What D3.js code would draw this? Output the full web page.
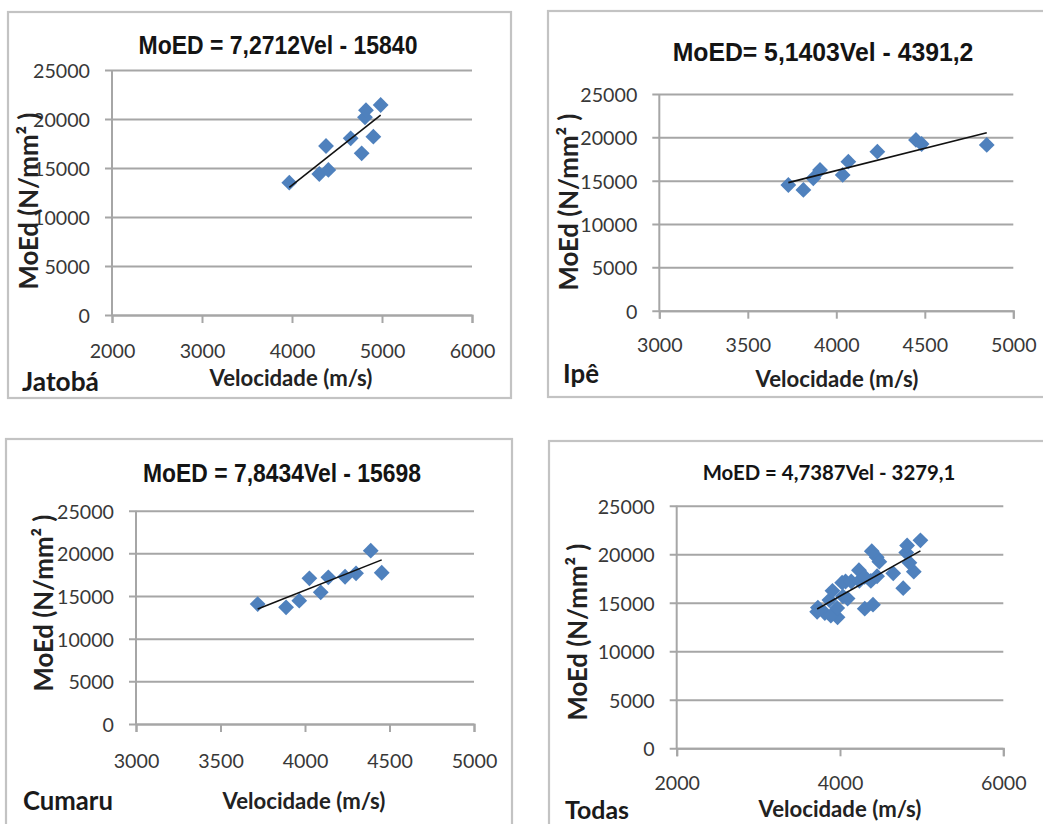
<!DOCTYPE html>
<html>
<head>
<meta charset="utf-8">
<script src="https://cdn.jsdelivr.net/npm/d3@7"></script>
<style>
  html, body { margin: 0; padding: 0; background: #ffffff; }
  svg { display: block; }
</style>
</head>
<body>
<svg id="chart" width="1043" height="824"></svg>
<script>
// ---------------- DATA ----------------
const speciesNames = ["Jatobá", "Ipê", "Cumaru", "Todas"];
const titles = [
  "MoED = 7,2712Vel - 15840",
  "MoED= 5,1403Vel - 4391,2",
  "MoED = 7,8434Vel - 15698",
  "MoED = 4,7387Vel - 3279,1"
];
const trendSlopes = [7.2712, 5.1403, 7.8434, 4.7387];
const trendIntercepts = [-15840, -4391.2, -15698, -3279.1];

const jatobaVel  = [3970, 4303, 4404, 4378, 4652, 4774, 4904, 4811, 4822, 4985];
const jatobaMoed = [13500, 14390, 14800, 17245, 18030, 16500, 18200, 20170, 20900, 21430];

const ipeVel  = [3729, 3814, 3870, 3908, 4036, 4068, 4232, 4450, 4482, 4850];
const ipeMoed = [14500, 13930, 15270, 16230, 15660, 17190, 18350, 19700, 19230, 19120];

const cumaruVel  = [3720, 3888, 3966, 4026, 4093, 4138, 4237, 4302, 4389, 4454];
const cumaruMoed = [14060, 13670, 14450, 17070, 15430, 17190, 17260, 17660, 20310, 17730];

const todasVel  = jatobaVel.concat(ipeVel, cumaruVel);
const todasMoed = jatobaMoed.concat(ipeMoed, cumaruMoed);

const xTicksJatoba = [2000, 3000, 4000, 5000, 6000];
const xTicksIpe    = [3000, 3500, 4000, 4500, 5000];
const xTicksCumaru = [3000, 3500, 4000, 4500, 5000];
const xTicksTodas  = [2000, 4000, 6000];
const yTicks = [0, 5000, 10000, 15000, 20000, 25000];

const xLabel = "Velocidade (m/s)";
const yLabel = "MoEd (N/mm² )";

// ---------------- LAYOUT / STYLE ----------------
const panels = [
  { vel: jatobaVel, moed: jatobaMoed, xTicks: xTicksJatoba,
    box: [8, 12, 511, 398], plot: [112, 70, 472, 315],
    title: [278, 45], titleW: 279, titleNarrow: true,
    xLabY: 350, xTitle: [291, 377], name: [22, 391], nameW: 77, yTitle: [28, 201] },
  { vel: ipeVel, moed: ipeMoed, xTicks: xTicksIpe,
    box: [548, 11, 1050, 397], plot: [659.3, 94, 1013.3, 310.7],
    title: [823, 52], titleW: 301, titleNarrow: true,
    xLabY: 345, xTitle: [837, 378], name: [563, 383], nameW: 36, yTitle: [568, 202] },
  { vel: cumaruVel, moed: cumaruMoed, xTicks: xTicksCumaru,
    box: [6, 439, 512, 830], plot: [136, 510.7, 474, 724],
    title: [282, 473], titleW: 278, titleNarrow: true,
    xLabY: 760, xTitle: [304, 800], name: [23, 810], nameW: 90, yTitle: [43, 603] },
  { vel: todasVel, moed: todasMoed, xTicks: xTicksTodas,
    box: [549, 441, 1050, 830], plot: [676.7, 505.7, 1003.3, 748.3],
    title: [829, 472], titleW: 253, titleNarrow: false,
    xLabY: 783, xTitle: [840, 808], name: [565, 819], nameW: 64, yTitle: [577, 632] }
];
const tickLabelW = 57;     // width of "25000"
const xTitleW = 163;
const yTitleW = 177;

const svg = d3.select("#chart");
const gridColor = "#a6a6a6";
const textColor = "#383838";
const markColor = "#4f81bd";
const sansFont = "'Liberation Sans', Arial, sans-serif";
const labelFont = "Lato, 'Open Sans', sans-serif";

// scale font-size so a text gets the wanted width
function fitSize(sel, target) {
  const len = sel.node().getComputedTextLength();
  const fs = parseFloat(sel.attr("font-size"));
  const nfs = fs * target / len;
  sel.attr("font-size", nfs);
  return nfs;
}

panels.forEach((p, i) => {
  const g = svg.append("g");
  const [bx0, by0, bx1, by1] = p.box;
  g.append("rect")
    .attr("x", bx0).attr("y", by0)
    .attr("width", bx1 - bx0).attr("height", by1 - by0)
    .attr("fill", "#fff").attr("stroke", "#c3c3c3").attr("stroke-width", 2.2);

  const [px0, py0, px1, py1] = p.plot;
  const x = d3.scaleLinear().domain(d3.extent(p.xTicks)).range([px0, px1]);
  const y = d3.scaleLinear().domain([0, 25000]).range([py1, py0]);

  // horizontal gridlines with small left ticks
  const yAxis = d3.axisLeft(y).tickValues(yTicks).tickSize(-(px1 - px0)).tickPadding(0)
    .tickFormat(d3.format("d"));
  const ya = g.append("g").attr("transform", `translate(${px0},0)`).call(yAxis);
  ya.select(".domain").remove();
  ya.selectAll(".tick line").attr("x1", -7).attr("stroke", gridColor).attr("stroke-width", 2);
  const yTexts = ya.selectAll(".tick text")
    .attr("font-family", labelFont).attr("font-size", 20)
    .attr("fill", textColor).attr("x", -22).attr("dy", null)
    .attr("dominant-baseline", "central");
  const widest = yTexts.filter(d => d === 25000);
  const tfs = fitSize(widest, tickLabelW);
  yTexts.attr("font-size", tfs);

  // y axis vertical line
  g.append("line").attr("x1", px0).attr("x2", px0).attr("y1", py0).attr("y2", py1)
    .attr("stroke", gridColor).attr("stroke-width", 2);

  // x axis
  const xAxis = d3.axisBottom(x).tickValues(p.xTicks).tickSize(8).tickPadding(0)
    .tickFormat(d3.format("d"));
  const xa = g.append("g").attr("transform", `translate(0,${py1})`).call(xAxis);
  xa.select(".domain").attr("stroke", gridColor).attr("stroke-width", 2);
  xa.selectAll(".tick line").attr("stroke", gridColor).attr("stroke-width", 2);
  xa.selectAll(".tick text").attr("font-family", labelFont).attr("font-size", tfs)
    .attr("fill", textColor).attr("dy", null)
    .attr("y", p.xLabY - py1).attr("dominant-baseline", "central");

  // points
  const pts = p.vel.map((v, k) => [v, p.moed[k]]);
  g.append("g").selectAll("path").data(pts).join("path")
    .attr("d", d3.symbol(d3.symbolSquare, 125))
    .attr("transform", d => `translate(${x(d[0])},${y(d[1])}) rotate(45)`)
    .attr("fill", markColor);

  // trendline from the fitted equation over the data range
  const trend = d3.extent(p.vel).map(v => [v, trendSlopes[i] * v + trendIntercepts[i]]);
  g.append("path").datum(trend)
    .attr("d", d3.line().x(d => x(d[0])).y(d => y(d[1])))
    .attr("stroke", "#111").attr("stroke-width", 1.6).attr("fill", "none");

  // title
  const tg = g.append("g").attr("transform", `translate(${p.title[0]},${p.title[1]})`);
  const tt = tg.append("text")
    .attr("text-anchor", "middle").attr("dominant-baseline", "central")
    .attr("font-family", p.titleNarrow ? sansFont : labelFont)
    .attr("font-weight", "bold")
    .attr("font-size", p.titleNarrow ? 26 : 21).attr("fill", "#141414")
    .text(titles[i]);
  if (p.titleNarrow) {
    const sx = p.titleW / tt.node().getComputedTextLength();
    tt.attr("transform", `scale(${sx},1)`);
  } else {
    fitSize(tt, p.titleW);
  }

  // x title
  const xt = g.append("text").attr("x", p.xTitle[0]).attr("y", p.xTitle[1])
    .attr("text-anchor", "middle").attr("dominant-baseline", "central")
    .attr("font-family", labelFont).attr("font-weight", "bold")
    .attr("font-size", 20).attr("fill", "#222")
    .text(xLabel);
  fitSize(xt, xTitleW);

  // y title
  const yt = g.append("text")
    .attr("transform", `translate(${p.yTitle[0]},${p.yTitle[1]}) rotate(-90)`)
    .attr("text-anchor", "middle").attr("dominant-baseline", "central")
    .attr("font-family", labelFont).attr("font-weight", "bold")
    .attr("font-size", 20).attr("fill", "#222")
    .text(yLabel);
  fitSize(yt, yTitleW);

  // species name
  const nt = g.append("text").attr("x", p.name[0]).attr("y", p.name[1])
    .attr("font-family", labelFont).attr("font-weight", "bold")
    .attr("font-size", 24).attr("fill", "#1a1a1a")
    .text(speciesNames[i]);
  fitSize(nt, p.nameW);
});
</script>
</body>
</html>
